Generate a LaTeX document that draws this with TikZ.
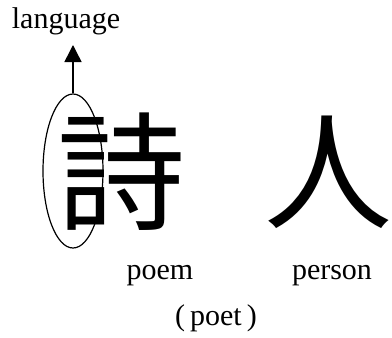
\documentclass[tikz,border=0pt]{standalone}
\usepackage{fontspec}
\setmainfont{Liberation Serif}
\newfontfamily\cjk{Noto Sans CJK JP}
\usetikzlibrary{arrows.meta,shapes.geometric}
\begin{document}
\begin{tikzpicture}[x=1pt,y=-1pt,
  lbl/.style={font=\fontsize{30}{36}\selectfont, inner sep=0pt, anchor=base},
  hanzi/.style={font=\cjk\fontsize{128}{130}\selectfont, inner sep=0pt, anchor=center},
  oval/.style={ellipse, draw, line width=1.2pt, minimum width=60pt, minimum height=154pt, inner sep=0pt},
  up/.style={line width=1.5pt, -{Triangle[length=17pt,width=17pt]}}]
\useasboundingbox (0,0) rectangle (392,338);
\node[lbl] (lang) at (66,28) {language};
\node[hanzi] (shi) at (121,172) {詩};
\node[hanzi] (ren) at (328,172) {人};
\node[oval] (rad) at (73,171) {};
\coordinate (tip) at (73,45);
\draw[up] (rad.north) -- (tip);
\node[lbl] (poem) at (160,279) {poem};
\node[lbl] (person) at (332,279) {person};
\node[lbl] (poet) at (216,325) {(\,poet\,)};
\end{tikzpicture}
\end{document}
